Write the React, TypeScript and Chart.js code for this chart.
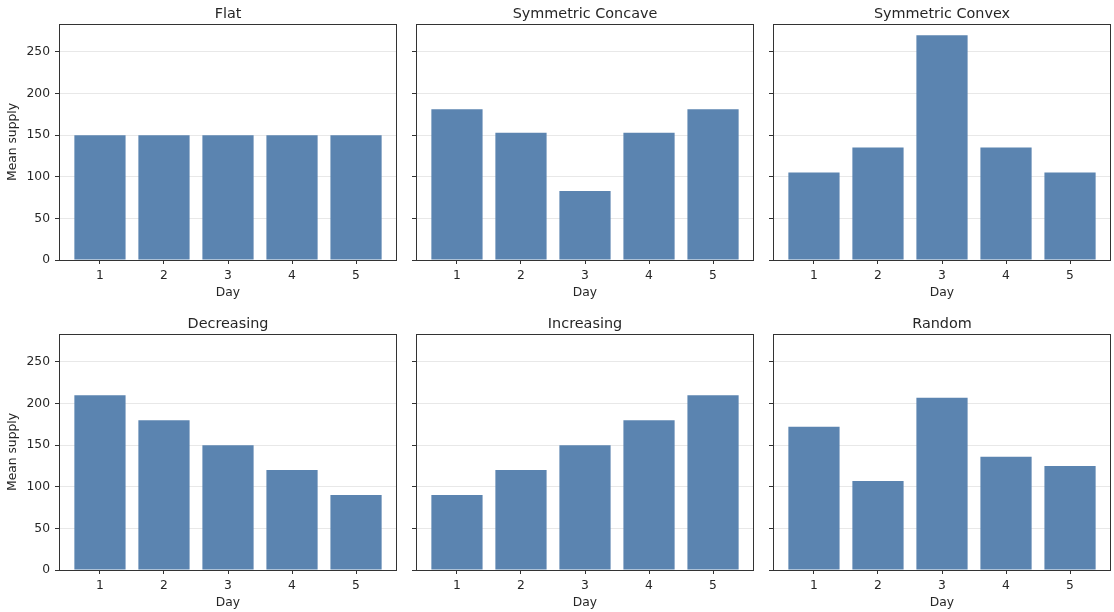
import React, { useEffect, useRef } from "react";
import { Chart, registerables } from "chart.js";

Chart.register(...registerables);

// ---- data ----
const days = [1, 2, 3, 4, 5];
const flat = [150, 150, 150, 150, 150];
const symmetricConcave = [181, 153, 83, 153, 181];
const symmetricConvex = [105, 135, 270, 135, 105];
const decreasing = [210, 180, 150, 120, 90];
const increasing = [90, 120, 150, 180, 210];
const randomSupply = [172, 107, 207, 136, 125];
const panelTitles = ["Flat", "Symmetric Concave", "Symmetric Convex", "Decreasing", "Increasing", "Random"];
const panelSeries = [flat, symmetricConcave, symmetricConvex, decreasing, increasing, randomSupply];
const yTicks = [0, 50, 100, 150, 200, 250];
const xLimits = [0.36, 5.64];
const yLimits = [0, 283.5];

// ---- styles ----
const FAMILY = "'DejaVu Sans', sans-serif";
const TEXT = "#262626";
const SPINE = "#333333";
const BAR = "#5b84b0";
const GRID = "rgba(180,180,180,0.3)";
const LABEL_SIZE = 12.3;
const TITLE_SIZE = 14.4;

const plotLefts = [59, 416, 773];
const rowTops = [0, 310];
const plotW = 338;
const plotH = 236;
const titleH = 24;
const xAxisH = 42;
const padR = 3;

const framePlugin = {
  id: "frame",
  afterDraw(chart: any) {
    const { ctx, chartArea: a } = chart;
    ctx.save();
    ctx.strokeStyle = SPINE;
    ctx.lineWidth = 1;
    ctx.strokeRect(Math.round(a.left) + 0.5, Math.round(a.top) + 0.5, Math.round(a.right - a.left) - 1, Math.round(a.bottom - a.top));
    ctx.restore();
  },
};

function Panel({ idx }: { idx: number }) {
  const ref = useRef<HTMLCanvasElement>(null);
  const row = Math.floor(idx / 3);
  const col = idx % 3;
  const yW = col === 0 ? 59 : 12;
  const width = yW + plotW + padR;
  const height = titleH + plotH + xAxisH;
  const left = plotLefts[col] - yW;
  const top = rowTops[row];

  useEffect(() => {
    if (!ref.current) return;
    const values = panelSeries[idx];
    const tickFont = { family: FAMILY, size: LABEL_SIZE };
    const half = (LABEL_SIZE * 1.2) / 2;
    const titleLH = TITLE_SIZE * 1.2;
    const titleTop = 14 - titleLH / 2;
    const chart = new Chart(ref.current, {
      type: "bar",
      data: {
        datasets: [
          {
            data: days.map((d, i) => ({ x: d, y: values[i] })),
            backgroundColor: BAR,
            borderWidth: 0,
            barPercentage: 0.8,
            categoryPercentage: 1,
          } as any,
        ],
      },
      options: {
        responsive: false,
        animation: false,
        devicePixelRatio: 1,
        layout: { padding: { left: 0, right: padR, top: 0, bottom: 0 } },
        plugins: {
          legend: { display: false },
          tooltip: { enabled: false },
          title: {
            display: true,
            text: panelTitles[idx],
            fullSize: false,
            color: TEXT,
            font: { family: FAMILY, size: TITLE_SIZE, weight: "normal", lineHeight: 1.2 },
            padding: { top: titleTop, bottom: titleH - titleTop - titleLH },
          },
        },
        scales: {
          x: {
            type: "linear",
            bounds: "data",
            min: xLimits[0],
            max: xLimits[1],
            offset: false,
            afterBuildTicks: (s: any) => {
              s.ticks = days.map((v) => ({ value: v }));
            },
            afterFit: (s: any) => {
              s.height = xAxisH;
            },
            grid: { drawOnChartArea: false, drawTicks: true, tickLength: 4, tickColor: SPINE, offset: false },
            border: { display: false },
            ticks: {
              font: tickFont,
              color: TEXT,
              padding: 15.7 - 4 - half,
              autoSkip: false,
              maxRotation: 0,
              callback: (v: any) => String(v),
            },
            title: { display: true, text: "Day", font: tickFont, color: TEXT, padding: { top: 0, bottom: 9 - half } },
          },
          y: {
            type: "linear",
            bounds: "data",
            min: yLimits[0],
            max: yLimits[1],
            z: 1,
            afterBuildTicks: (s: any) => {
              s.ticks = yTicks.map((v) => ({ value: v }));
            },
            afterFit: (s: any) => {
              s.width = yW;
            },
            grid: { color: GRID, lineWidth: 1, drawTicks: true, tickLength: 4, tickColor: SPINE },
            border: { display: false },
            ticks: {
              display: col === 0,
              font: tickFont,
              color: TEXT,
              padding: 5,
              callback: (v: any) => String(v),
            },
            title: {
              display: col === 0,
              text: "Mean supply",
              font: tickFont,
              color: TEXT,
              padding: { top: 12.5 - half, bottom: 0 },
            },
          },
        },
      } as any,
      plugins: [framePlugin],
    });
    return () => chart.destroy();
  }, []);

  return (
    <canvas
      ref={ref}
      width={width}
      height={height}
      style={{ position: "absolute", left, top, width, height }}
    />
  );
}

export default function App() {
  return (
    <div
      style={{
        position: "fixed",
        left: 0,
        top: 0,
        width: 1114,
        height: 612,
        background: "#ffffff",
        overflow: "hidden",
      }}
    >
      {panelTitles.map((t, i) => (
        <Panel key={t} idx={i} />
      ))}
    </div>
  );
}
